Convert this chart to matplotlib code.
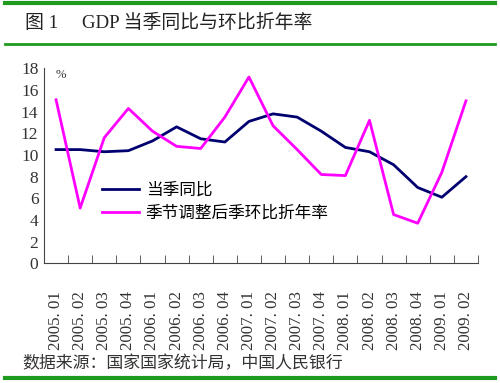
import matplotlib
matplotlib.use('Agg')
import matplotlib.pyplot as plt
from matplotlib.lines import Line2D

# 数字用衬线体，中文回落到 Noto Sans CJK
plt.rcParams['font.family'] = ['Liberation Serif', 'Noto Sans CJK SC', 'DejaVu Sans']

quarters = ['2005. 01', '2005. 02', '2005. 03', '2005. 04',
            '2006. 01', '2006. 02', '2006. 03', '2006. 04',
            '2007. 01', '2007. 02', '2007. 03', '2007. 04',
            '2008. 01', '2008. 02', '2008. 03', '2008. 04',
            '2009. 01', '2009. 02']
yoy = [10.5, 10.5, 10.3, 10.4, 11.3, 12.6, 11.5, 11.2, 13.1,
       13.8, 13.5, 12.2, 10.7, 10.3, 9.1, 7.0, 6.1, 8.0]
qoq_ann = [15.1, 5.1, 11.6, 14.3, 12.2, 10.8, 10.6, 13.5, 17.2,
           12.7, 10.5, 8.2, 8.1, 13.2, 4.5, 3.7, 8.4, 15.0]

fig = plt.figure(figsize=(5, 3.83), dpi=100)
ax = fig.add_axes([0.088, 0.3125, 0.868, 0.509])

x = list(range(len(quarters)))
ax.plot(x, yoy, color='#000070', lw=2, label='当季同比')
ax.plot(x, qoq_ann, color='#FF00FF', lw=2, label='季节调整后季环比折年率')

ax.set_xlim(-0.5, len(quarters) - 0.5)
ax.set_ylim(0, 18)
ax.set_yticks(range(0, 19, 2))
ax.tick_params(axis='y', length=0, pad=4, labelsize=12.5, labelcolor='#333333')

ax.set_xticks(x)
ax.set_xticklabels(quarters, rotation=90)
ax.set_xticks([i - 0.5 for i in range(len(quarters) + 1)], minor=True)
ax.tick_params(axis='x', which='major', length=0, pad=20, labelsize=12.2, labelcolor='#333333')
ax.tick_params(axis='x', which='minor', direction='in', length=6, color='#444444')

for s in ['top', 'right']:
    ax.spines[s].set_visible(False)
ax.spines['left'].set_color('#444444')
ax.spines['bottom'].set_color('#444444')

ax.text(0.0, 17.9, '%', fontsize=9, va='top', ha='left', color='#333333')

ax.legend(loc='lower left', bbox_to_anchor=(0.1, 0.135), frameon=False,
          fontsize=12, handlelength=2.2, labelspacing=0.45, handletextpad=0.4)

green = '#1E9A1E'
fig.add_artist(Line2D([0.01, 0.99], [0.992, 0.992], color=green, lw=3))
fig.add_artist(Line2D([0.01, 0.99], [0.885, 0.885], color=green, lw=2))
fig.add_artist(Line2D([0.01, 0.99], [0.013, 0.013], color=green, lw=3))

fig.text(0.05, 0.94, '图 1     GDP 当季同比与环比折年率', fontsize=13.6, va='center', color='#222222')
fig.text(0.044, 0.05, '数据来源：国家国家统计局，中国人民银行', fontsize=12.2, va='center', color='#333333')

fig.savefig('out.png')
